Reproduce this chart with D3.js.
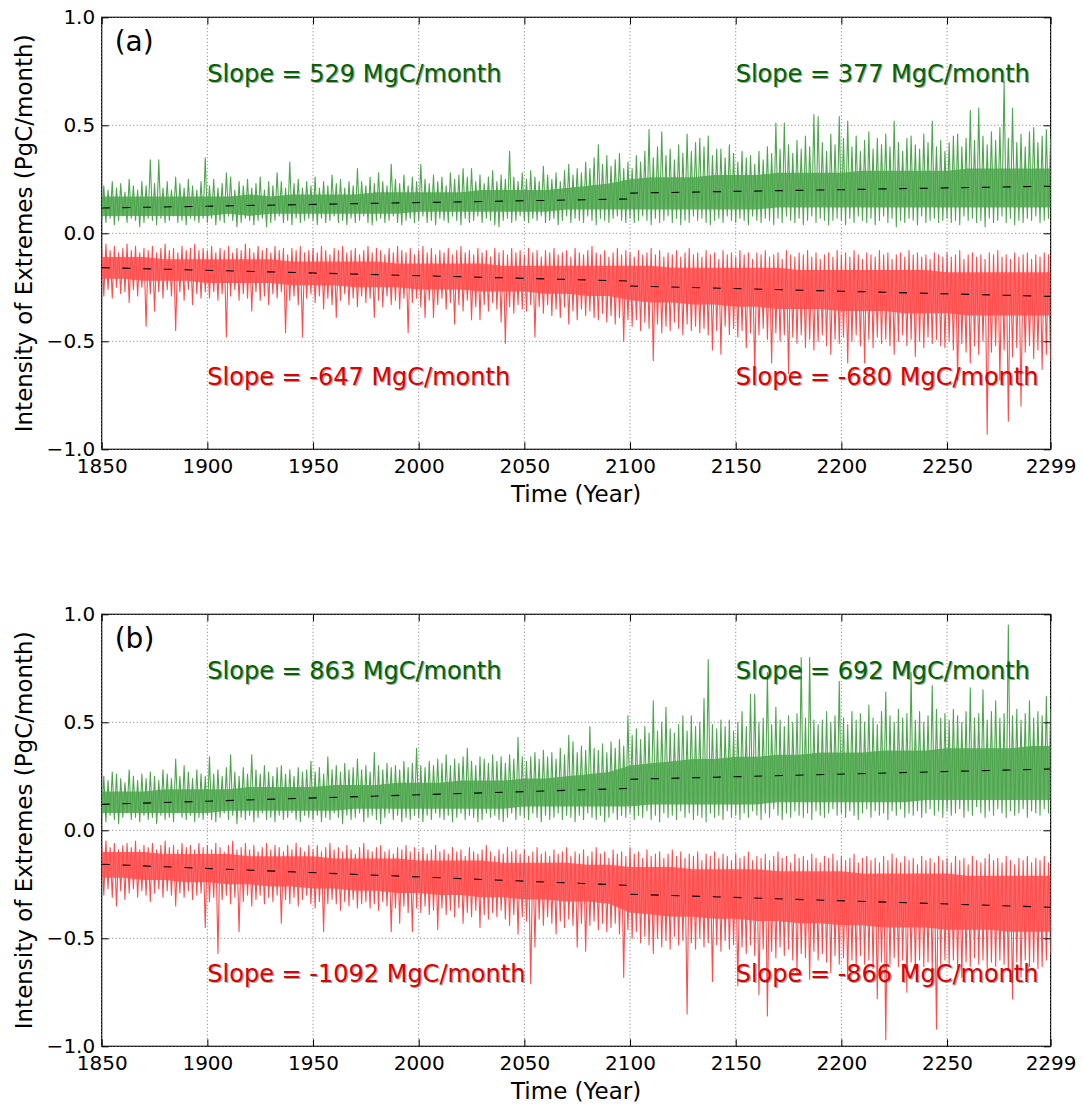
<!DOCTYPE html>
<html>
<head>
<meta charset="utf-8">
<script src="https://cdn.jsdelivr.net/npm/d3@7"></script>
<style>
  body { margin: 0; background: #fff; }
  svg { display: block; }
  text { font-family: "DejaVu Sans", sans-serif; }
</style>
</head>
<body>
<svg id="chart" width="1083" height="1107"></svg>
<script>
// ---- time axes -------------------------------------------------------------
const binYears = d3.range(1850, 2300, 2);                 // 225 two-year bins
const coreYears = [...d3.range(1850, 2300, 10), 2299];    // 46 decade nodes
const xTickValues = [1850, 1900, 1950, 2000, 2050, 2100, 2150, 2200, 2250, 2299];
const yTickValues = [-1, -0.5, 0, 0.5, 1];

// ---- panel (a): positive extremes (green) -----------------------------------
// largest monthly value in each two-year bin (PgC/month)
const aGreenPeak = [
  .22,.20,.24,.21,.23,.19,.25,.22,.20,.24,.22,.34,.23,.34,.21,.24,.20,.26,.23,.21,.25,.22,.20,.24,.35,
  .22,.25,.21,.23,.28,.26,.20,.24,.22,.25,.21,.23,.26,.20,.24,.22,.28,.24,.21,.33,.23,.25,.21,.24,.22,
  .26,.21,.24,.22,.27,.23,.25,.21,.24,.22,.30,.24,.22,.26,.23,.28,.24,.22,.32,.25,.23,.27,.22,.26,.24,
  .32,.25,.23,.27,.24,.26,.22,.28,.25,.27,.30,.26,.30,.24,.27,.23,.26,.29,.24,.27,.25,.38,.26,.24,.28,
  .25,.29,.26,.24,.31,.27,.25,.28,.24,.29,.32,.27,.30,.28,.33,.30,.35,.41,.32,.36,.31,.34,.37,.30,.33,
  .30,.36,.33,.38,.48,.35,.40,.47,.36,.39,.34,.41,.37,.46,.38,.42,.44,.40,.45,.36,.39,.39,.35,.41,.37,
  .33,.38,.35,.36,.32,.38,.34,.40,.37,.51,.39,.51,.41,.37,.43,.39,.45,.40,.55,.54,.42,.38,.46,.41,.54,
  .44,.52,.40,.45,.38,.43,.47,.39,.44,.41,.46,.40,.52,.42,.38,.44,.45,.41,.39,.46,.42,.52,.40,.43,.38,
  .42,.45,.46,.40,.44,.57,.43,.58,.45,.41,.47,.43,.49,.70,.44,.58,.42,.46,.40,.47,.49,.42,.45,.48,.44
];
// smallest monthly value in each two-year bin
const aGreenBase = [
  .06,.05,.07,.04,.06,.08,.05,.07,.06,.03,.05,.07,.06,.04,.07,.05,.06,.08,.05,.06,.04,.07,.06,.05,.07,
  .05,.07,.04,.06,.05,.08,.06,.03,.05,.07,.06,.04,.06,.07,.03,.05,.06,.08,.05,.06,.04,.07,.05,.06,.07,
  .06,.04,.07,.05,.06,.08,.05,.06,.04,.07,.05,.06,.08,.05,.04,.06,.07,.05,.06,.08,.05,.04,.06,.07,.05,
  .06,.08,.05,.06,.04,.07,.06,.05,.08,.06,.04,.07,.05,.06,.08,.05,.07,.06,.04,.03,.06,.07,.05,.06,.08,
  .06,.05,.07,.06,.08,.05,.06,.07,.04,.06,.08,.05,.07,.06,.05,.08,.06,.04,.07,.06,.05,.07,.08,.06,.05,
  .07,.05,.06,.08,.06,.04,.07,.05,.06,.08,.05,.07,.04,.06,.05,.08,.06,.07,.05,.04,.06,.07,.05,.08,.06,
  .05,.07,.06,.04,.08,.06,.05,.07,.06,.04,.07,.05,.08,.06,.05,.07,.04,.06,.08,.05,.07,.06,.04,.06,.07,
  .06,.04,.07,.05,.08,.06,.05,.07,.04,.06,.08,.05,.07,.03,.06,.05,.07,.06,.04,.08,.05,.06,.07,.05,.06,
  .07,.05,.06,.04,.08,.06,.07,.05,.06,.03,.07,.05,.06,.08,.05,.07,.04,.06,.05,.07,.06,.08,.05,.06,.07
];
// dense central band of the monthly values, per decade
const aGreenCoreLo = [
  .08,.08,.08,.08,.08, .08,.09,.08,.09,.09,.09,.09,.09,.09,.09, .10,.10,.10,.10,.10,.10,.10,.11,.11,.11,
  .11,.11,.11,.11,.11,.11,.11,.12,.12,.12, .12,.12,.12,.12,.12,.12,.12,.12,.12,.12,.12
];
const aGreenCoreHi = [
  .17,.17,.17,.17,.17, .17,.17,.18,.17,.18,.18,.18,.18,.19,.19, .19,.19,.19,.20,.20,.20,.20,.21,.22,.23,
  .25,.26,.26,.26,.27,.27,.27,.28,.28,.28, .28,.29,.29,.29,.29,.29,.30,.30,.30,.30,.30
];

// ---- panel (a): negative extremes (red) -------------------------------------
const aRedPeak = [
  -.29,-.26,-.30,-.25,-.28,-.27,-.32,-.26,-.29,-.25,-.43,-.28,-.36,-.27,-.30,-.26,-.29,-.45,-.27,-.31,-.26,-.33,-.28,-.30,-.27,
  -.30,-.27,-.31,-.28,-.48,-.29,-.26,-.31,-.28,-.30,-.36,-.27,-.31,-.29,-.33,-.28,-.30,-.27,-.46,-.31,-.29,-.33,-.48,-.30,-.28,
  -.32,-.29,-.35,-.30,-.33,-.39,-.31,-.28,-.33,-.30,-.34,-.29,-.32,-.30,-.39,-.31,-.34,-.29,-.33,-.31,-.35,-.30,-.46,-.32,-.30,
  -.34,-.39,-.31,-.39,-.33,-.30,-.35,-.32,-.42,-.33,-.36,-.31,-.40,-.34,-.40,-.33,-.36,-.32,-.35,-.41,-.51,-.34,-.37,-.33,-.35,
  -.36,-.33,-.48,-.34,-.37,-.33,-.38,-.35,-.39,-.34,-.42,-.36,-.40,-.35,-.38,-.36,-.39,-.40,-.37,-.41,-.38,-.42,-.39,-.50,-.40,
  -.43,-.40,-.45,-.41,-.44,-.59,-.42,-.46,-.43,-.45,-.41,-.44,-.47,-.42,-.45,-.43,-.46,-.44,-.47,-.54,-.45,-.56,-.43,-.47,-.44,
  -.48,-.45,-.53,-.46,-.65,-.47,-.44,-.49,-.60,-.46,-.50,-.47,-.65,-.48,-.51,-.47,-.53,-.49,-.54,-.50,-.47,-.52,-.56,-.49,-.51,
  -.48,-.60,-.50,-.47,-.52,-.60,-.49,-.53,-.48,-.51,-.49,-.52,-.56,-.50,-.47,-.52,-.49,-.57,-.50,-.53,-.48,-.51,-.49,-.52,-.53,
  -.50,-.54,-.68,-.51,-.55,-.60,-.52,-.56,-.50,-.93,-.55,-.52,-.68,-.54,-.87,-.57,-.53,-.80,-.55,-.52,-.58,-.54,-.63,-.56,-.59
];
const aRedBase = [
  -.07,-.05,-.08,-.06,-.09,-.07,-.05,-.08,-.06,-.09,-.07,-.08,-.06,-.09,-.07,-.05,-.08,-.07,-.09,-.06,-.08,-.07,-.05,-.08,-.07,
  -.08,-.06,-.09,-.07,-.08,-.06,-.09,-.07,-.08,-.05,-.07,-.09,-.06,-.08,-.07,-.09,-.06,-.08,-.07,-.10,-.07,-.08,-.06,-.09,-.08,
  -.07,-.09,-.06,-.08,-.10,-.07,-.08,-.06,-.09,-.08,-.07,-.10,-.08,-.06,-.09,-.07,-.08,-.10,-.07,-.09,-.06,-.08,-.09,-.07,-.10,
  -.08,-.06,-.09,-.07,-.10,-.08,-.09,-.07,-.10,-.08,-.06,-.09,-.08,-.10,-.07,-.09,-.08,-.11,-.07,-.09,-.08,-.10,-.07,-.09,-.08,
  -.10,-.07,-.09,-.08,-.11,-.08,-.09,-.07,-.10,-.09,-.08,-.11,-.07,-.09,-.10,-.08,-.06,-.09,-.10,-.08,-.11,-.09,-.07,-.10,-.08,
  -.09,-.11,-.08,-.10,-.09,-.07,-.10,-.08,-.11,-.09,-.10,-.08,-.11,-.09,-.07,-.10,-.09,-.11,-.08,-.10,-.09,-.12,-.08,-.10,-.09,
  -.11,-.08,-.10,-.09,-.12,-.09,-.10,-.08,-.11,-.10,-.09,-.12,-.08,-.10,-.11,-.09,-.10,-.08,-.11,-.09,-.12,-.10,-.09,-.11,-.08,
  -.10,-.09,-.11,-.08,-.10,-.12,-.09,-.10,-.11,-.08,-.10,-.09,-.12,-.10,-.09,-.11,-.08,-.10,-.09,-.11,-.10,-.12,-.09,-.10,-.11,
  -.09,-.11,-.10,-.08,-.12,-.10,-.09,-.11,-.10,-.12,-.09,-.10,-.08,-.11,-.10,-.12,-.09,-.11,-.10,-.09,-.12,-.10,-.11,-.09,-.10
];
const aRedCoreHi = [
  -.11,-.11,-.11,-.12,-.12, -.12,-.12,-.12,-.12,-.13,-.13,-.13,-.13,-.13,-.14, -.14,-.14,-.14,-.14,-.15,-.15,-.15,-.15,-.15,-.15,
  -.15,-.15,-.16,-.16,-.16,-.16,-.16,-.16,-.17,-.17, -.17,-.17,-.17,-.17,-.17,-.18,-.18,-.18,-.18,-.18,-.18
];
const aRedCoreLo = [
  -.21,-.21,-.22,-.22,-.22, -.23,-.23,-.23,-.23,-.24,-.24,-.24,-.25,-.25,-.25, -.26,-.26,-.26,-.27,-.27,-.27,-.28,-.28,-.29,-.29,
  -.31,-.32,-.32,-.33,-.33,-.34,-.34,-.35,-.35,-.35, -.36,-.36,-.36,-.37,-.37,-.37,-.38,-.38,-.38,-.38,-.38
];

// ---- panel (b): positive extremes (green) -----------------------------------
const bGreenPeak = [
  .25,.23,.27,.26,.24,.22,.28,.25,.23,.26,.24,.27,.25,.23,.28,.26,.24,.33,.25,.30,.27,.24,.28,.26,.25,
  .34,.26,.28,.25,.29,.35,.27,.25,.29,.26,.35,.28,.26,.30,.27,.25,.29,.30,.26,.28,.25,.29,.27,.28,.32,
  .27,.29,.26,.34,.28,.30,.27,.31,.28,.29,.33,.28,.30,.27,.36,.30,.28,.31,.29,.30,.28,.32,.29,.31,.38,
  .30,.29,.32,.30,.33,.31,.35,.30,.33,.31,.34,.38,.32,.30,.34,.33,.31,.35,.32,.34,.31,.35,.33,.43,.34,
  .32,.34,.36,.33,.37,.34,.36,.33,.38,.35,.44,.41,.36,.39,.37,.48,.38,.37,.40,.36,.41,.38,.42,.39,.53,
  .44,.47,.42,.48,.45,.60,.46,.50,.57,.47,.45,.49,.53,.46,.53,.48,.50,.61,.79,.49,.47,.51,.48,.51,.46,
  .50,.55,.48,.63,.63,.50,.52,.73,.49,.57,.51,.48,.53,.50,.54,.80,.52,.80,.51,.49,.51,.55,.50,.53,.69,
  .52,.49,.55,.51,.54,.50,.58,.52,.49,.55,.64,.53,.50,.56,.52,.54,.73,.51,.55,.50,.53,.67,.56,.52,.54,
  .51,.56,.53,.50,.55,.66,.52,.54,.65,.51,.55,.60,.52,.54,.95,.53,.56,.51,.54,.60,.52,.55,.53,.62,.56
];
const bGreenBase = [
  .06,.04,.07,.05,.03,.06,.08,.05,.06,.04,.07,.05,.06,.03,.07,.05,.06,.04,.08,.06,.05,.07,.04,.06,.05,
  .07,.05,.04,.06,.08,.05,.07,.03,.06,.05,.07,.04,.06,.08,.05,.06,.04,.07,.05,.06,.08,.05,.04,.07,.06,
  .05,.07,.04,.06,.05,.08,.06,.03,.07,.05,.06,.08,.04,.06,.07,.05,.03,.06,.08,.05,.07,.04,.06,.05,.07,
  .06,.04,.07,.05,.08,.06,.05,.07,.04,.06,.08,.05,.07,.06,.04,.05,.08,.06,.07,.05,.04,.06,.08,.05,.07,
  .06,.05,.08,.06,.04,.07,.05,.06,.08,.05,.07,.06,.04,.07,.05,.08,.06,.05,.07,.04,.06,.08,.05,.07,.06,
  .08,.05,.07,.06,.09,.05,.07,.04,.08,.06,.07,.05,.09,.06,.08,.05,.07,.06,.04,.08,.06,.07,.05,.09,.06,
  .07,.05,.08,.06,.09,.07,.05,.08,.06,.10,.07,.05,.08,.06,.09,.07,.06,.08,.05,.09,.07,.06,.08,.10,.07,
  .08,.06,.09,.07,.05,.08,.10,.06,.09,.07,.08,.05,.09,.07,.10,.06,.08,.07,.09,.06,.08,.10,.07,.09,.06,
  .09,.07,.08,.10,.06,.09,.07,.11,.08,.06,.09,.07,.10,.08,.06,.09,.07,.08,.10,.06,.09,.08,.07,.10,.08
];
const bGreenCoreLo = [
  .08,.08,.08,.08,.08, .08,.09,.09,.09,.09,.09,.09,.10,.10,.10, .10,.10,.10,.10,.10,.11,.11,.11,.11,.11,
  .11,.12,.12,.12,.12,.12,.12,.13,.13,.13, .13,.13,.13,.13,.14,.14,.14,.14,.14,.14,.14
];
const bGreenCoreHi = [
  .18,.18,.18,.19,.19, .19,.19,.20,.20,.20,.20,.21,.21,.21,.22, .22,.22,.23,.23,.23,.24,.24,.25,.26,.27,
  .30,.31,.32,.33,.33,.34,.34,.35,.35,.36, .36,.36,.37,.37,.37,.38,.38,.38,.38,.39,.39
];

// ---- panel (b): negative extremes (red) -------------------------------------
const bRedPeak = [
  -.30,-.27,-.31,-.35,-.28,-.32,-.29,-.27,-.31,-.28,-.30,-.33,-.29,-.27,-.31,-.28,-.30,-.35,-.29,-.31,-.28,-.32,-.30,-.29,-.45,
  -.33,-.31,-.57,-.32,-.30,-.34,-.31,-.47,-.33,-.30,-.35,-.32,-.30,-.34,-.31,-.33,-.30,-.43,-.32,-.34,-.31,-.35,-.32,-.30,-.34,
  -.36,-.33,-.47,-.34,-.32,-.34,-.37,-.33,-.35,-.32,-.36,-.34,-.33,-.36,-.34,-.37,-.33,-.35,-.47,-.36,-.43,-.35,-.38,-.47,-.36,
  -.38,-.35,-.39,-.37,-.46,-.36,-.39,-.37,-.40,-.36,-.43,-.38,-.40,-.37,-.45,-.39,-.41,-.38,-.40,-.37,-.41,-.44,-.39,-.48,-.40,
  -.42,-.71,-.54,-.41,-.44,-.40,-.43,-.48,-.42,-.45,-.41,-.44,-.54,-.43,-.56,-.44,-.42,-.46,-.43,-.47,-.45,-.43,-.48,-.68,-.46,
  -.50,-.47,-.52,-.49,-.53,-.57,-.50,-.54,-.51,-.55,-.49,-.53,-.51,-.85,-.52,-.55,-.50,-.54,-.52,-.70,-.53,-.56,-.51,-.55,-.53,
  -.72,-.54,-.57,-.53,-.58,-.76,-.55,-.86,-.56,-.59,-.54,-.58,-.55,-.60,-.66,-.57,-.59,-.69,-.56,-.60,-.57,-.61,-.66,-.58,-.62,
  -.59,-.69,-.60,-.63,-.58,-.62,-.60,-.64,-.78,-.61,-.97,-.62,-.59,-.63,-.60,-.75,-.61,-.64,-.60,-.63,-.61,-.65,-.92,-.62,-.60,
  -.63,-.60,-.64,-.68,-.61,-.63,-.59,-.62,-.60,-.64,-.61,-.63,-.60,-.62,-.65,-.78,-.61,-.68,-.60,-.63,-.61,-.64,-.63,-.60,-.57
];
const bRedBase = [
  -.07,-.05,-.08,-.06,-.09,-.07,-.06,-.08,-.05,-.09,-.07,-.08,-.06,-.09,-.07,-.05,-.08,-.07,-.09,-.06,-.08,-.07,-.09,-.06,-.08,
  -.07,-.09,-.06,-.08,-.10,-.07,-.05,-.09,-.08,-.06,-.09,-.07,-.10,-.08,-.06,-.09,-.07,-.08,-.10,-.07,-.09,-.06,-.08,-.10,-.07,
  -.09,-.07,-.10,-.08,-.06,-.09,-.08,-.10,-.07,-.09,-.11,-.08,-.06,-.09,-.10,-.08,-.07,-.10,-.09,-.11,-.08,-.09,-.07,-.10,-.08,
  -.10,-.08,-.11,-.09,-.07,-.10,-.09,-.11,-.08,-.10,-.09,-.12,-.08,-.10,-.11,-.09,-.07,-.10,-.12,-.09,-.11,-.08,-.10,-.09,-.11,
  -.09,-.12,-.10,-.08,-.11,-.10,-.12,-.09,-.11,-.10,-.08,-.12,-.10,-.11,-.09,-.12,-.10,-.08,-.11,-.10,-.13,-.09,-.11,-.10,-.12,
  -.08,-.11,-.10,-.13,-.09,-.12,-.11,-.10,-.13,-.11,-.09,-.12,-.10,-.13,-.11,-.12,-.10,-.14,-.11,-.12,-.10,-.13,-.11,-.12,-.14,
  -.11,-.13,-.12,-.10,-.14,-.12,-.13,-.11,-.14,-.12,-.10,-.13,-.12,-.15,-.11,-.13,-.12,-.14,-.11,-.13,-.15,-.12,-.13,-.11,-.14,
  -.12,-.14,-.13,-.11,-.15,-.13,-.12,-.14,-.13,-.15,-.12,-.14,-.11,-.13,-.15,-.12,-.14,-.13,-.16,-.12,-.14,-.13,-.15,-.12,-.14,
  -.13,-.15,-.12,-.14,-.13,-.16,-.12,-.14,-.15,-.13,-.11,-.14,-.13,-.15,-.12,-.14,-.16,-.13,-.14,-.12,-.15,-.13,-.14,-.12,-.15
];
const bRedCoreHi = [
  -.10,-.10,-.10,-.11,-.11, -.11,-.11,-.12,-.12,-.12,-.12,-.13,-.13,-.13,-.13, -.14,-.14,-.14,-.14,-.15,-.15,-.15,-.15,-.16,-.16,
  -.17,-.17,-.17,-.18,-.18,-.18,-.18,-.19,-.19,-.19, -.19,-.20,-.20,-.20,-.20,-.20,-.21,-.21,-.21,-.21,-.21
];
const bRedCoreLo = [
  -.22,-.22,-.23,-.23,-.24, -.24,-.25,-.25,-.26,-.26,-.27,-.27,-.28,-.28,-.29, -.29,-.30,-.30,-.31,-.31,-.32,-.32,-.33,-.33,-.34,
  -.38,-.39,-.40,-.40,-.41,-.41,-.42,-.42,-.43,-.43, -.44,-.44,-.45,-.45,-.45,-.46,-.46,-.46,-.47,-.47,-.47
];

// ---- fitted linear trends (start / end values of each period) ---------------
const trendPeriods = [[1850, 2100], [2100, 2299]];
const aGreenTrend = [[0.117, 0.159], [0.186, 0.218]];
const aRedTrend   = [[-0.159, -0.221], [-0.244, -0.292]];
const bGreenTrend = [[0.120, 0.194], [0.236, 0.284]];
const bRedTrend   = [[-0.157, -0.255], [-0.296, -0.356]];

// ---- slope annotations ------------------------------------------------------
const aSlopeLabels = ["Slope = 529 MgC/month", "Slope = 377 MgC/month",
                      "Slope = -647 MgC/month", "Slope = -680 MgC/month"];
const bSlopeLabels = ["Slope = 863 MgC/month", "Slope = 692 MgC/month",
                      "Slope = -1092 MgC/month", "Slope = -866 MgC/month"];

// ---- drawing ----------------------------------------------------------------
const GREEN = "#4da64d", RED = "#ff4d4d";
const GREEN_TEXT = "#006400", RED_TEXT = "#e00000";
const plotLeft = 101.7, plotRight = 1050.6;
const svg = d3.select("#chart");
const x = d3.scaleLinear().domain([1850, 2299]).range([plotLeft, plotRight]);

const panels = [
  { tag: "(a)", top: 17.3, bottom: 449.3,
    series: [
      { peak: aGreenPeak, base: aGreenBase, lo: aGreenCoreLo, hi: aGreenCoreHi, color: GREEN, trend: aGreenTrend },
      { peak: aRedPeak,   base: aRedBase,   lo: aRedCoreLo,   hi: aRedCoreHi,   color: RED,   trend: aRedTrend }
    ],
    labels: aSlopeLabels },
  { tag: "(b)", top: 614.3, bottom: 1046.3,
    series: [
      { peak: bGreenPeak, base: bGreenBase, lo: bGreenCoreLo, hi: bGreenCoreHi, color: GREEN, trend: bGreenTrend },
      { peak: bRedPeak,   base: bRedBase,   lo: bRedCoreLo,   hi: bRedCoreHi,   color: RED,   trend: bRedTrend }
    ],
    labels: bSlopeLabels }
];

// label anchors: [year, value] for the four slope notes of a panel
const labelAnchors = [[1900, 0.7], [2150, 0.7], [1900, -0.7], [2150, -0.7]];
const labelColors = [GREEN_TEXT, GREEN_TEXT, RED_TEXT, RED_TEXT];

panels.forEach((p, pi) => {
  const y = d3.scaleLinear().domain([-1, 1]).range([p.bottom, p.top]);
  const g = svg.append("g");
  const clipId = "plot-clip-" + pi;
  svg.append("clipPath").attr("id", clipId)
    .append("rect")
    .attr("x", plotLeft).attr("y", p.top)
    .attr("width", plotRight - plotLeft).attr("height", p.bottom - p.top);

  // axes frame
  g.append("rect")
    .attr("x", plotLeft).attr("y", p.top)
    .attr("width", plotRight - plotLeft).attr("height", p.bottom - p.top)
    .attr("fill", "none").attr("stroke", "#000").attr("stroke-width", 1.2);

  const plot = g.append("g").attr("clip-path", `url(#${clipId})`);

  p.series.forEach(s => {
    // dense central band
    const core = coreYears.map((yr, i) => ({ yr, lo: s.lo[i], hi: s.hi[i] }));
    plot.append("path").datum(core)
      .attr("d", d3.area().x(d => x(d.yr)).y0(d => y(d.lo)).y1(d => y(d.hi)))
      .attr("fill", s.color).attr("fill-opacity", 0.85);
    // monthly excursions: each bin's minimum, then its maximum
    const pts = [];
    binYears.forEach((yr, i) => {
      pts.push([yr, s.base[i]]);
      pts.push([yr + 1, s.peak[i]]);
    });
    plot.append("path").datum(pts)
      .attr("d", d3.line().x(d => x(d[0])).y(d => y(d[1])))
      .attr("fill", "none").attr("stroke", s.color)
      .attr("stroke-width", 1.1).attr("stroke-linejoin", "round");
  });

  // grid (dotted) drawn above the series
  const grid = g.append("g").attr("stroke", "#7a7a7a").attr("stroke-width", 1)
    .attr("stroke-dasharray", "1,2.5");
  xTickValues.forEach(t => grid.append("line")
    .attr("x1", x(t)).attr("x2", x(t)).attr("y1", p.top).attr("y2", p.bottom));
  yTickValues.forEach(t => grid.append("line")
    .attr("x1", plotLeft).attr("x2", plotRight).attr("y1", y(t)).attr("y2", y(t)));

  // trend lines
  p.series.forEach(s => {
    trendPeriods.forEach((per, k) => {
      plot.append("path")
        .datum([[per[0], s.trend[k][0]], [per[1], s.trend[k][1]]])
        .attr("d", d3.line().x(d => x(d[0])).y(d => y(d[1])))
        .attr("fill", "none").attr("stroke", "#000").attr("stroke-width", 1.1)
        .attr("stroke-dasharray", "8,12.7");
    });
  });

  // ticks on all four sides, pointing inward
  const fmtY = d3.format(".1f");
  g.append("g").attr("transform", `translate(0,${p.bottom})`)
    .call(d3.axisBottom(x).tickValues(xTickValues).tickFormat(d3.format("d"))
      .tickSize(-7).tickPadding(9.5));
  g.append("g").attr("transform", `translate(${plotLeft},0)`)
    .call(d3.axisLeft(y).tickValues(yTickValues).tickFormat(fmtY)
      .tickSize(-7).tickPadding(6.5));
  g.append("g").attr("transform", `translate(0,${p.top})`)
    .call(d3.axisTop(x).tickValues(xTickValues).tickFormat("").tickSize(-7));
  g.append("g").attr("transform", `translate(${plotRight},0)`)
    .call(d3.axisRight(y).tickValues(yTickValues).tickFormat("").tickSize(-7));
  g.selectAll(".domain").remove();
  g.selectAll(".tick line").attr("stroke", "#000").attr("stroke-width", 1);
  g.selectAll(".tick text").attr("font-size", 20).attr("fill", "#000")
    .attr("font-family", "DejaVu Sans, sans-serif");

  // axis titles
  g.append("text")
    .attr("x", (plotLeft + plotRight) / 2).attr("y", p.bottom + 53)
    .attr("text-anchor", "middle").attr("font-size", 23).text("Time (Year)");
  g.append("text")
    .attr("transform", `translate(32,${(p.top + p.bottom) / 2}) rotate(-90)`)
    .attr("text-anchor", "middle").attr("font-size", 23)
    .text("Intensity of Extremes (PgC/month)");

  // panel tag
  g.append("text").attr("x", plotLeft + 13).attr("y", p.top + 34)
    .attr("font-size", 28).text(p.tag);

  // slope notes with a soft drop shadow
  p.labels.forEach((txt, i) => {
    const [yr, v] = labelAnchors[i];
    g.append("text").attr("x", x(yr) + 1.2).attr("y", y(v) + 1.2)
      .attr("font-size", 24).attr("fill", "#000").attr("opacity", 0.35).text(txt);
    g.append("text").attr("x", x(yr)).attr("y", y(v))
      .attr("font-size", 24).attr("fill", labelColors[i]).text(txt);
  });
});
</script>
</body>
</html>
